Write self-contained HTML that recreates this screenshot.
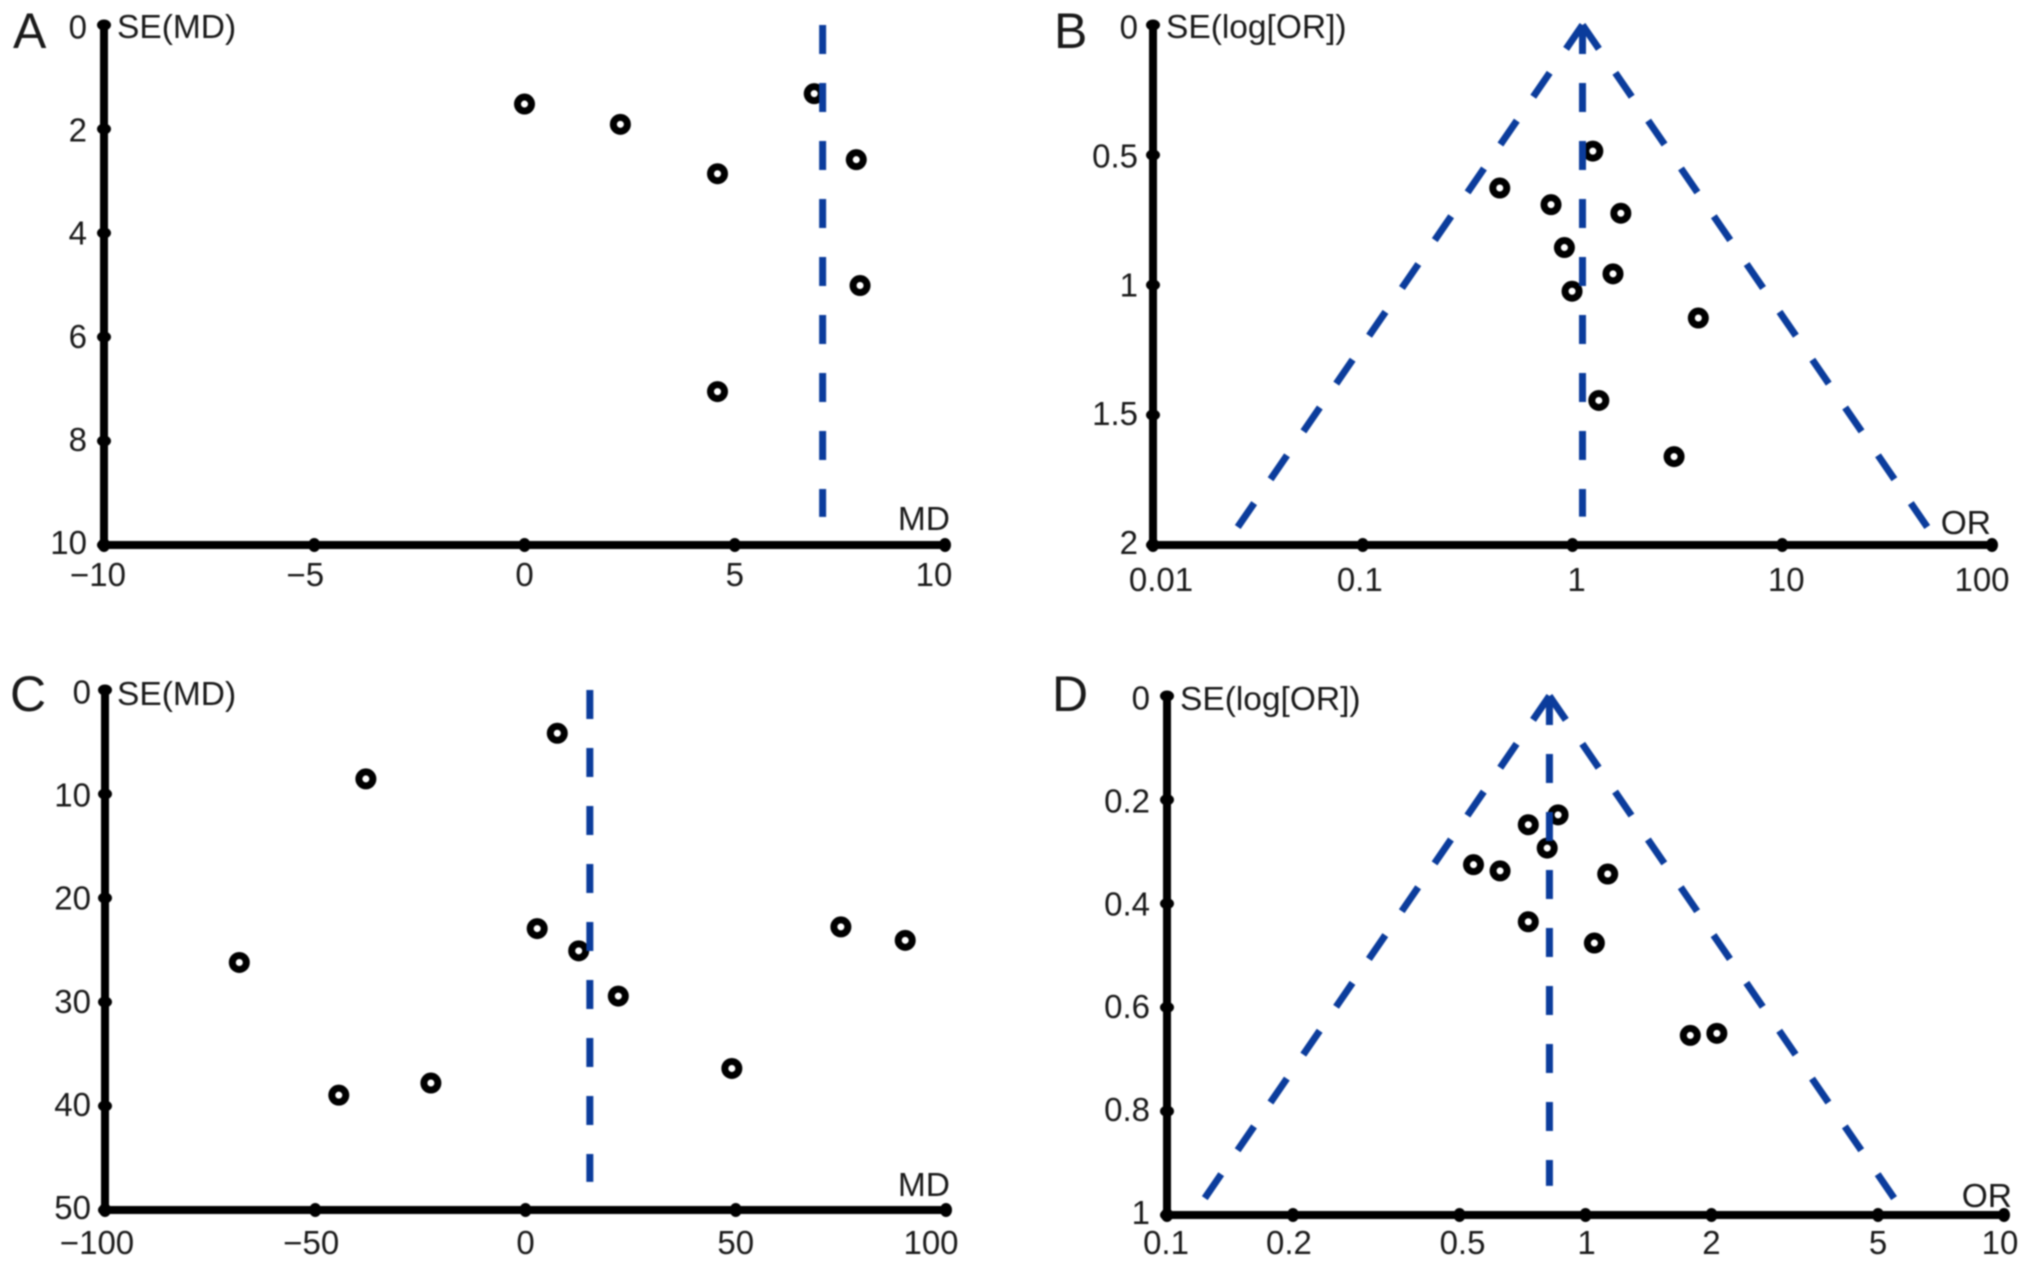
<!DOCTYPE html>
<html lang="en">
<head>
<meta charset="utf-8">
<title>Funnel plots A–D</title>
<style>
  html, body { margin: 0; padding: 0; background: #fff; }
  body { width: 2032px; height: 1264px; overflow: hidden; }
  svg { display: block; font-family: "Liberation Sans", sans-serif; fill: #1a1a1a; }
  #figure { filter: blur(0.7px); }
  .tick-label { font-size: 33px; }
  .axis-title { font-size: 33.5px; }
  .panel-letter { font-size: 50px; }
</style>
</head>
<body>
<svg id="figure" width="2032" height="1264" viewBox="0 0 2032 1264" xmlns="http://www.w3.org/2000/svg">
  <g id="panel-a">
    <text class="panel-letter" x="13" y="48">A</text>
    <text class="axis-title" x="117" y="38">SE(MD)</text>
    <text class="axis-title" x="950" y="530" text-anchor="end">MD</text>
  </g>
  <g id="panel-b">
    <text class="panel-letter" x="1054" y="48">B</text>
    <text class="axis-title" x="1166" y="38">SE(log[OR])</text>
    <text class="axis-title" x="1991" y="534" text-anchor="end">OR</text>
  </g>
  <g id="panel-c">
    <text class="panel-letter" x="10" y="711">C</text>
    <text class="axis-title" x="117" y="705">SE(MD)</text>
    <text class="axis-title" x="950" y="1196" text-anchor="end">MD</text>
  </g>
  <g id="panel-d">
    <text class="panel-letter" x="1052" y="711">D</text>
    <text class="axis-title" x="1180" y="710">SE(log[OR])</text>
    <text class="axis-title" x="2012" y="1207" text-anchor="end">OR</text>
  </g>
</svg>
<script>
// ---- Panel A data ----
const aEffects = [0, 2.28, 4.59, 6.89, 7.89, 7.98, 4.59];
const aErrors = [1.52, 1.91, 2.86, 1.32, 2.59, 5.01, 7.05];
const aPooled = 7.09;
const aXTicks = [-10, -5, 0, 5, 10];
const aXLabels = ['\u221210', '\u22125', '0', '5', '10'];
const aYTicks = [0, 2, 4, 6, 8, 10];
const aYLabels = ['0', '2', '4', '6', '8', '10'];
const aCenterEnd = 9.46;

// ---- Panel B data ----
const bEffects = [1.25, 0.45, 0.79, 1.70, 0.915, 1.56, 0.995, 3.98, 1.335, 3.05];
const bErrors = [0.485, 0.627, 0.691, 0.724, 0.856, 0.957, 1.024, 1.127, 1.444, 1.660];
const bPooled = 1.116;
const bXTicks = [0.01, 0.1, 1, 10, 100];
const bXLabels = ['0.01', '0.1', '1', '10', '100'];
const bYTicks = [0, 0.5, 1, 1.5, 2];
const bYLabels = ['0', '0.5', '1', '1.5', '2'];
const bCenterEnd = 1.891;
const bFunnelEnd = 1.955;

// ---- Panel C data ----
const cEffects = [7.56, -37.96, 2.78, 75, 90.3, 12.65, -68.06, 22.07, 49.07, -22.5, -44.4];
const cErrors = [4.16, 8.55, 22.94, 22.78, 24.07, 25.08, 26.2, 29.43, 36.39, 37.79, 38.96];
const cPooled = 15.3;
const cXTicks = [-100, -50, 0, 50, 100];
const cXLabels = ['\u2212100', '\u221250', '0', '50', '100'];
const cYTicks = [0, 10, 20, 30, 40, 50];
const cYLabels = ['0', '10', '20', '30', '40', '50'];
const cCenterEnd = 47.3;

// ---- Panel D data ----
const dEffects = [0.86, 0.73, 0.81, 0.54, 0.625, 1.13, 0.73, 1.05, 1.78, 2.06];
const dErrors = [0.229, 0.248, 0.293, 0.325, 0.337, 0.343, 0.435, 0.476, 0.654, 0.650];
const dPooled = 0.82;
const dXTicks = [0.1, 0.2, 0.5, 1, 2, 5, 10];
const dXLabels = ['0.1', '0.2', '0.5', '1', '2', '5', '10'];
const dYTicks = [0, 0.2, 0.4, 0.6, 0.8, 1];
const dYLabels = ['0', '0.2', '0.4', '0.6', '0.8', '1'];
const dCenterEnd = 0.944;
const dFunnelEnd = 0.977;

// ---- Layout (pixels), separate from the data ----
const BLUE = '#0b3c9c';
const INK = '#000000';
const SVGNS = 'http://www.w3.org/2000/svg';

const panels = [
  { id: 'a', log: false, effects: aEffects, errors: aErrors, pooled: aPooled, xTicks: aXTicks, xLabels: aXLabels, yTicks: aYTicks, yLabels: aYLabels, centerEnd: aCenterEnd, funnelEnd: null,
    left: 104, right: 945, top: 25, bottom: 545, yLabelRight: 87, xBaseline: 586, xNudge: [-6, -9, 0, 0, -11] },
  { id: 'b', log: true, effects: bEffects, errors: bErrors, pooled: bPooled, xTicks: bXTicks, xLabels: bXLabels, yTicks: bYTicks, yLabels: bYLabels, centerEnd: bCenterEnd, funnelEnd: bFunnelEnd,
    left: 1153, right: 1992, top: 25, bottom: 545, yLabelRight: 1138, xBaseline: 591, xNudge: [8, -3, 4, 4, -10] },
  { id: 'c', log: false, effects: cEffects, errors: cErrors, pooled: cPooled, xTicks: cXTicks, xLabels: cXLabels, yTicks: cYTicks, yLabels: cYLabels, centerEnd: cCenterEnd, funnelEnd: null,
    left: 105, right: 946, top: 690, bottom: 1210, yLabelRight: 91, xBaseline: 1254, xNudge: [-8, -4, 0, 0, -15] },
  { id: 'd', log: true, effects: dEffects, errors: dErrors, pooled: dPooled, xTicks: dXTicks, xLabels: dXLabels, yTicks: dYTicks, yLabels: dYLabels, centerEnd: dCenterEnd, funnelEnd: dFunnelEnd,
    left: 1167, right: 2004, top: 696, bottom: 1215, yLabelRight: 1150, xBaseline: 1254, xNudge: [-1, -4, 3, 1, 0, 0, -4] }
];

function make(tag, attrs, parent) {
  const el = document.createElementNS(SVGNS, tag);
  for (const key in attrs) el.setAttribute(key, attrs[key]);
  parent.appendChild(el);
  return el;
}

function drawPanel(p) {
  const group = document.getElementById('panel-' + p.id);
  const xMin = p.xTicks[0];
  const xMax = p.xTicks[p.xTicks.length - 1];
  const yMax = p.yTicks[p.yTicks.length - 1];

  const xScale = function (v) {
    const t = p.log
      ? (Math.log10(v) - Math.log10(xMin)) / (Math.log10(xMax) - Math.log10(xMin))
      : (v - xMin) / (xMax - xMin);
    return p.left + t * (p.right - p.left);
  };
  const yScale = function (v) {
    return p.top + (v / yMax) * (p.bottom - p.top);
  };

  // Axes
  const yAxis = make('line', { x1: p.left, x2: p.left, y1: p.top - 2, y2: p.bottom, stroke: INK, 'stroke-width': 8 }, group);
  
  

  const xAxis = make('line', { x1: p.left, x2: p.right + 3, y1: p.bottom, y2: p.bottom, stroke: INK, 'stroke-width': 8 }, group);
  
  

  // Y ticks and labels
  p.yTicks.forEach(function (value, i) {
    const y = yScale(value);
    const frac = value / yMax;
    const tick = make('ellipse', { cx: p.left, cy: y, rx: 7, ry: 5.5, fill: INK }, group);
    
    

    const label = make('text', { class: 'tick-label', x: p.yLabelRight, y: y + 13.5 - 4.5 * frac, 'text-anchor': 'end' }, group);
    label.textContent = p.yLabels[i];
    
    
  });

  // X ticks and labels
  p.xTicks.forEach(function (value, i) {
    const x = xScale(value);
    const tick = make('ellipse', { cx: x, cy: p.bottom, rx: 6, ry: 7, fill: INK }, group);
    
    

    const label = make('text', { class: 'tick-label', x: x + p.xNudge[i], y: p.xBaseline, 'text-anchor': 'middle' }, group);
    label.textContent = p.xLabels[i];
    
    
  });

  // Study points
  p.effects.forEach(function (effect, i) {
    const point = make('circle', { cx: xScale(effect), cy: yScale(p.errors[i]), r: 7, fill: '#fff', stroke: INK, 'stroke-width': 7 }, group);
    
    
  });

  // Pooled-effect dashed line
  const dashStyle = { stroke: BLUE, 'stroke-width': 7, 'stroke-dasharray': '29 29', fill: 'none' };
  const center = make('line', Object.assign({ x1: xScale(p.pooled), x2: xScale(p.pooled), y1: yScale(0), y2: yScale(p.centerEnd) }, dashStyle), group);
  
  

  // 95% confidence funnel (odds-ratio panels)
  if (p.funnelEnd !== null) {
    const spread = Math.exp(1.96 * p.funnelEnd);
    const leftEdge = make('line', Object.assign({ x1: xScale(p.pooled), y1: yScale(0), x2: xScale(p.pooled / spread), y2: yScale(p.funnelEnd) }, dashStyle), group);
    
    

    const rightEdge = make('line', Object.assign({ x1: xScale(p.pooled), y1: yScale(0), x2: xScale(p.pooled * spread), y2: yScale(p.funnelEnd) }, dashStyle), group);
    
    
  }
}

panels.forEach(drawPanel);
</script>
</body>
</html>
